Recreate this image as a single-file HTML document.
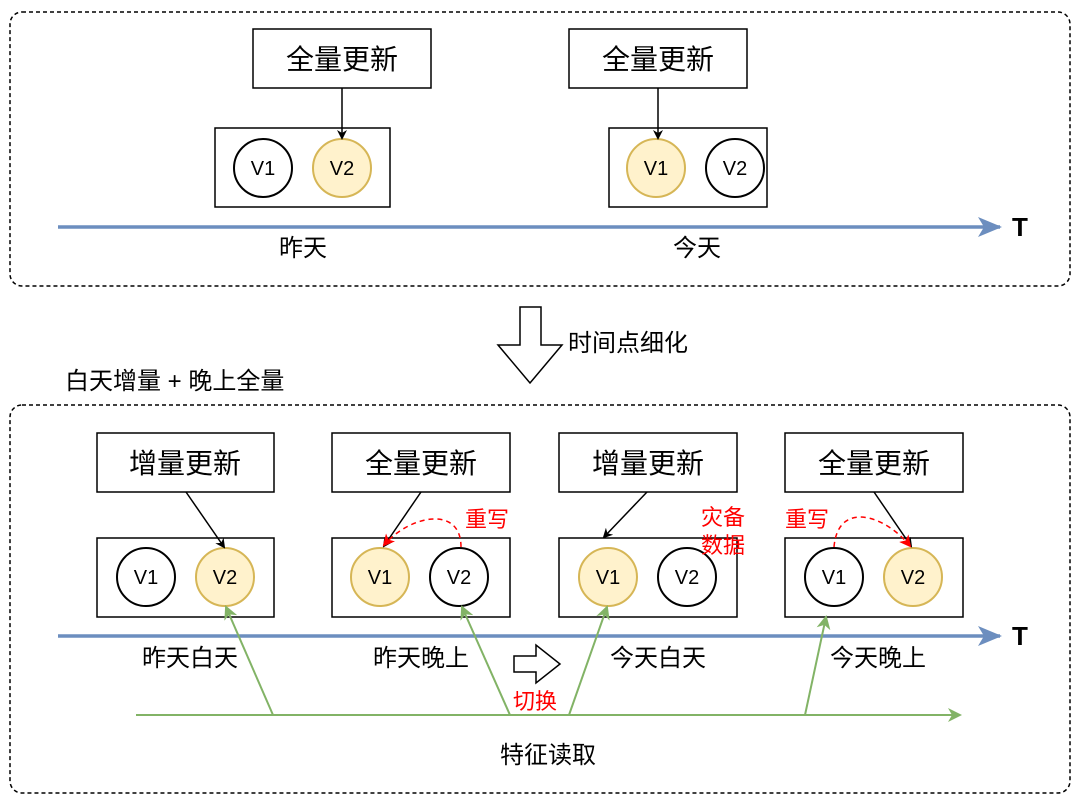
<!DOCTYPE html>
<html><head><meta charset="utf-8"><style>
body{margin:0;background:#fff}
text{font-family:"Liberation Sans","Noto Sans CJK SC",sans-serif}
</style></head><body>
<svg width="1080" height="802" xmlns="http://www.w3.org/2000/svg">
<defs>
<marker id="ab" markerWidth="10" markerHeight="10" refX="8" refY="5" orient="auto" markerUnits="userSpaceOnUse"><path d="M0,0 L10,5 L0,10 L3,5z" fill="#000"/></marker>
<marker id="ar" markerWidth="12" markerHeight="12" refX="10" refY="6" orient="auto" markerUnits="userSpaceOnUse"><path d="M0,0 L12,6 L0,12 L3,6z" fill="#f00"/></marker>
<marker id="ag" markerWidth="14" markerHeight="14" refX="12" refY="7" orient="auto" markerUnits="userSpaceOnUse"><path d="M0,0 L14,7 L0,14 L4,7z" fill="#82b366"/></marker>
<marker id="abl" markerWidth="24" markerHeight="20" refX="22" refY="10" orient="auto" markerUnits="userSpaceOnUse"><path d="M0,0 L24,10 L0,20 L6,10z" fill="#6c8ebf"/></marker>
</defs>
<g fill="none" stroke="#000" stroke-width="1.5">
<rect x="10" y="12" width="1060" height="274" rx="12" stroke-dasharray="4 3"/>
<rect x="10" y="405" width="1060" height="388" rx="12" stroke-dasharray="4 3"/>
<rect x="253" y="29" width="178" height="59"/><rect x="569" y="29" width="178" height="59"/>
<rect x="215" y="128" width="175" height="79"/><rect x="609" y="128" width="158" height="79"/>
<rect x="97" y="433" width="177" height="59"/><rect x="332" y="433" width="178" height="59"/>
<rect x="559" y="433" width="178" height="59"/><rect x="785" y="433" width="178" height="59"/>
<rect x="97" y="538" width="177" height="79"/><rect x="332" y="538" width="178" height="79"/>
<rect x="559" y="538" width="178" height="79"/><rect x="785" y="538" width="178" height="79"/>
</g>
<g stroke-width="2">
<circle cx="263" cy="168" r="29" fill="#fff" stroke="#000"/>
<circle cx="342" cy="168" r="29" fill="#fff2cc" stroke="#d6b656"/>
<circle cx="656" cy="168" r="29" fill="#fff2cc" stroke="#d6b656"/>
<circle cx="735" cy="168" r="29" fill="#fff" stroke="#000"/>
<circle cx="146" cy="577" r="29" fill="#fff" stroke="#000"/>
<circle cx="225" cy="577" r="29" fill="#fff2cc" stroke="#d6b656"/>
<circle cx="380" cy="577" r="29" fill="#fff2cc" stroke="#d6b656"/>
<circle cx="459" cy="577" r="29" fill="#fff" stroke="#000"/>
<circle cx="608" cy="577" r="29" fill="#fff2cc" stroke="#d6b656"/>
<circle cx="687" cy="577" r="29" fill="#fff" stroke="#000"/>
<circle cx="834" cy="577" r="29" fill="#fff" stroke="#000"/>
<circle cx="913" cy="577" r="29" fill="#fff2cc" stroke="#d6b656"/>
</g>
<g font-size="20" text-anchor="middle">
<text x="263" y="175">V1</text><text x="342" y="175">V2</text><text x="656" y="175">V1</text><text x="735" y="175">V2</text>
<text x="146" y="584">V1</text><text x="225" y="584">V2</text><text x="380" y="584">V1</text><text x="459" y="584">V2</text>
<text x="608" y="584">V1</text><text x="687" y="584">V2</text><text x="834" y="584">V1</text><text x="913" y="584">V2</text>
</g>
<g font-size="28" text-anchor="middle">
<text x="342" y="69">全量更新</text><text x="658" y="69">全量更新</text>
<text x="185" y="473">增量更新</text><text x="421" y="473">全量更新</text><text x="648" y="473">增量更新</text><text x="874" y="473">全量更新</text>
</g>
<g stroke="#000" stroke-width="1.5" marker-end="url(#ab)">
<line x1="342" y1="88" x2="342" y2="138"/><line x1="658" y1="88" x2="658" y2="138"/>
<line x1="186" y1="492" x2="224" y2="547"/><line x1="421" y1="492" x2="384" y2="546"/>
<line x1="647" y1="492" x2="604" y2="537"/><line x1="874" y1="492" x2="911" y2="546"/>
</g>
<g stroke="#6c8ebf" stroke-width="3.5" marker-end="url(#abl)">
<line x1="58" y1="227" x2="1000" y2="227"/><line x1="58" y1="636" x2="1000" y2="636"/>
</g>
<g font-size="26" font-weight="bold"><text x="1012" y="236">T</text><text x="1012" y="645">T</text></g>
<g font-size="24" text-anchor="middle">
<text x="303" y="256">昨天</text><text x="697" y="256">今天</text>
<text x="190" y="666">昨天白天</text><text x="421" y="666">昨天晚上</text><text x="658" y="666">今天白天</text><text x="878" y="666">今天晚上</text>
<text x="548" y="763">特征读取</text>
</g>
<text x="568" y="351" font-size="24">时间点细化</text>
<text x="65" y="389" font-size="24">白天增量 + 晚上全量</text>
<path d="M520,307 H541 V345 H562 L530,383 L498,345 H520Z" fill="#fff" stroke="#000" stroke-width="1.5"/>
<path d="M514,656 H536 V645 L560,664 L536,683 V672 H514Z" fill="#fff" stroke="#000" stroke-width="1.5"/>
<g stroke="#82b366" stroke-width="2" fill="none">
<line x1="136" y1="715" x2="960" y2="715" marker-end="url(#ag)"/>
<line x1="273" y1="715" x2="226" y2="607" marker-end="url(#ag)"/>
<line x1="510" y1="715" x2="462" y2="607" marker-end="url(#ag)"/>
<line x1="569" y1="715" x2="607" y2="607" marker-end="url(#ag)"/>
<line x1="805" y1="715" x2="826" y2="617" marker-end="url(#ag)"/>
</g>
<g stroke="#f00" stroke-width="1.5" fill="none" stroke-dasharray="5 4">
<path d="M461,547 C461,505 410,515 384,545" marker-end="url(#ar)"/>
<path d="M834,547 C838,500 885,515 910,546" marker-end="url(#ar)"/>
</g>
<g fill="#f00" font-size="22">
<text x="465" y="527">重写</text><text x="785" y="527">重写</text>
<text x="701" y="525">灾备</text><text x="701" y="553">数据</text>
<text x="513" y="709">切换</text>
</g>
</svg>
</body></html>
